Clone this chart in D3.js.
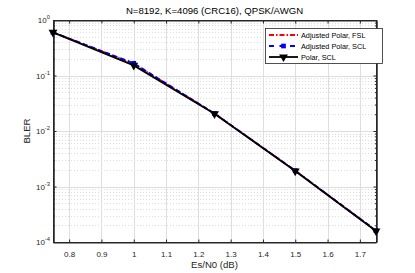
<!DOCTYPE html>
<html><head><meta charset="utf-8">
<script src="https://cdn.jsdelivr.net/npm/d3@7"></script>
<style>body{margin:0;background:#fff}svg{display:block;font-family:"Liberation Sans",Arial,sans-serif}</style>
</head><body><svg id="c" width="415" height="273"></svg>
<script>
const esn0 = [0.75, 1.0, 1.25, 1.5, 1.75];
const adjFSL = [0.60, 0.163, 0.0207, 0.00193, 0.000160];
const adjSCL = [0.60, 0.166, 0.0207, 0.00193, 0.000160];
const polSCL = [0.60, 0.152, 0.0204, 0.00190, 0.000158];
const xTicks = [0.8, 0.9, 1.0, 1.1, 1.2, 1.3, 1.4, 1.5, 1.6, 1.7];
const yDecades = [1e-4, 1e-3, 1e-2, 1e-1, 1];
const seriesNames = ["Adjusted Polar, FSL", "Adjusted Polar, SCL", "Polar, SCL"];

const svg = d3.select("#c");
const L = 53, R = 376, T = 20, B = 242;
const x = d3.scaleLinear().domain([0.75, 1.75]).range([L, R]);
const y = d3.scaleLog().domain([1e-4, 1]).range([B, T]);

// grid
const g = svg.append("g");
const minor = [];
for (let e = -4; e < 0; e++) for (let m = 2; m <= 9; m++) minor.push(m * Math.pow(10, e));
g.selectAll(".mn").data(minor).join("line")
  .attr("x1", L).attr("x2", R).attr("y1", d => Math.round(y(d)) + 0.5).attr("y2", d => Math.round(y(d)) + 0.5)
  .attr("stroke", "#d4d4d4").attr("stroke-width", 0.8).attr("stroke-dasharray", "1,2");
g.selectAll(".my").data(yDecades.slice(1, 4)).join("line")
  .attr("x1", L).attr("x2", R).attr("y1", d => Math.round(y(d)) + 0.5).attr("y2", d => Math.round(y(d)) + 0.5)
  .attr("stroke", "#dedede").attr("stroke-width", 1);
g.selectAll(".mx").data(xTicks).join("line")
  .attr("y1", T).attr("y2", B).attr("x1", d => Math.round(x(d)) + 0.5).attr("x2", d => Math.round(x(d)) + 0.5)
  .attr("stroke", "#dedede").attr("stroke-width", 1);

// axes
const fmt = d => (Math.abs(d - 1) < 1e-9 ? "1" : d.toFixed(1));
const ax = d3.axisBottom(x).tickValues(xTicks).tickFormat(fmt).tickSize(-3).tickSizeOuter(0);
const axG = svg.append("g").attr("transform", `translate(0,${B + 0.5})`).call(ax);
axG.selectAll("text").attr("dy", "1.4em");
svg.append("g").attr("transform", `translate(0,${T + 0.5})`)
  .call(d3.axisTop(x).tickValues(xTicks).tickFormat("").tickSize(-3).tickSizeOuter(0));
const ay = d3.axisLeft(y).tickValues(yDecades).tickFormat("").tickSize(-3).tickSizeOuter(0);
svg.append("g").attr("transform", `translate(${L + 0.5},0)`).call(ay);
svg.append("g").attr("transform", `translate(${L + 0.5},0)`)
  .call(d3.axisLeft(y).tickValues(minor).tickFormat("").tickSize(-1.5).tickSizeOuter(0));
svg.append("g").attr("transform", `translate(${R + 0.5},0)`)
  .call(d3.axisRight(y).tickValues(yDecades).tickFormat("").tickSize(-3).tickSizeOuter(0));
svg.append("g").attr("transform", `translate(${R + 0.5},0)`)
  .call(d3.axisRight(y).tickValues(minor).tickFormat("").tickSize(-1.5).tickSizeOuter(0));
svg.selectAll(".domain").attr("stroke", "#262626").attr("stroke-width", 1);
svg.selectAll(".tick line").attr("stroke", "#262626");
svg.selectAll(".tick text").attr("font-size", 8).attr("fill", "#262626").attr("font-family", "Liberation Sans, Arial, sans-serif");
// y labels
const yl = svg.append("g");
yDecades.forEach(d => {
  const e = Math.round(Math.log10(d));
  const t = yl.append("text").attr("x", L - 3).attr("y", y(d) + 3).attr("text-anchor", "end")
    .attr("font-size", 8).attr("fill", "#262626");
  t.append("tspan").text("10");
  t.append("tspan").attr("dy", -3.8).attr("font-size", 5.8).text(e);
});
// box lines
svg.append("rect").attr("x", L + 0.5).attr("y", T + 0.5).attr("width", R - L).attr("height", B - T)
  .attr("fill", "none").attr("stroke", "#262626").attr("stroke-width", 1);

// titles
svg.append("text").attr("x", (L + R) / 2).attr("y", 14).attr("text-anchor", "middle")
  .attr("font-size", 9.6).attr("fill", "#000").text("N=8192, K=4096 (CRC16), QPSK/AWGN");
svg.append("text").attr("x", (L + R) / 2).attr("y", 268).attr("text-anchor", "middle")
  .attr("font-size", 9.6).attr("fill", "#262626").text("Es/N0 (dB)");
svg.append("text").attr("transform", `translate(30,${(T + B) / 2}) rotate(-90)`).attr("text-anchor", "middle")
  .attr("font-size", 9.6).attr("fill", "#262626").text("BLER");

// series
const line = d3.line().x(d => x(d[0])).y(d => y(d[1]));
const tri = d3.symbol().type(d3.symbolTriangle).size(34);
const sq = d3.symbol().type(d3.symbolSquare).size(22);
const data = [adjFSL, adjSCL, polSCL].map(v => esn0.map((e, i) => [e, v[i]]));
// red
svg.append("path").attr("d", line(data[0])).attr("fill", "none").attr("stroke", "#ff0000")
  .attr("stroke-width", 1.8).attr("stroke-dasharray", "5,2,1.5,2");
// blue
svg.append("path").attr("d", line(data[1])).attr("fill", "none").attr("stroke", "#0000ff")
  .attr("stroke-width", 1.8).attr("stroke-dasharray", "5,3");
svg.selectAll(".bsq").data(data[1]).join("path").attr("d", sq)
  .attr("transform", d => `translate(${x(d[0])},${y(d[1])})`).attr("fill", "#0000ff");
// black
svg.append("path").attr("d", line(data[2])).attr("fill", "none").attr("stroke", "#000")
  .attr("stroke-width", 1.8);
svg.selectAll(".ktr").data(data[2]).join("path").attr("d", tri)
  .attr("transform", d => `translate(${x(d[0])},${y(d[1])}) rotate(180)`).attr("fill", "#000");

// legend
const lg = svg.append("g").attr("transform", "translate(265,28)");
lg.append("rect").attr("x", 0.5).attr("y", 0.5).attr("width", 117).attr("height", 35)
  .attr("fill", "#fff").attr("stroke", "#262626").attr("stroke-width", 0.8);
const ly = [7, 18, 29];
lg.append("line").attr("x1", 4).attr("x2", 33).attr("y1", ly[0]).attr("y2", ly[0])
  .attr("stroke", "#ff0000").attr("stroke-width", 1.8).attr("stroke-dasharray", "5,2,1.5,2");
lg.append("line").attr("x1", 4).attr("x2", 33).attr("y1", ly[1]).attr("y2", ly[1])
  .attr("stroke", "#0000ff").attr("stroke-width", 1.8).attr("stroke-dasharray", "5,5.5");
lg.append("path").attr("d", sq).attr("transform", `translate(18.5,${ly[1]})`).attr("fill", "#0000ff");
lg.append("line").attr("x1", 4).attr("x2", 33).attr("y1", ly[2]).attr("y2", ly[2])
  .attr("stroke", "#000").attr("stroke-width", 1.8);
lg.append("path").attr("d", tri).attr("transform", `translate(18.5,${ly[2]}) rotate(180)`).attr("fill", "#000");
seriesNames.forEach((n, i) => lg.append("text").attr("x", 36).attr("y", ly[i] + 2.7)
  .attr("font-size", 7.3).attr("fill", "#000").text(n));
</script></body></html>
